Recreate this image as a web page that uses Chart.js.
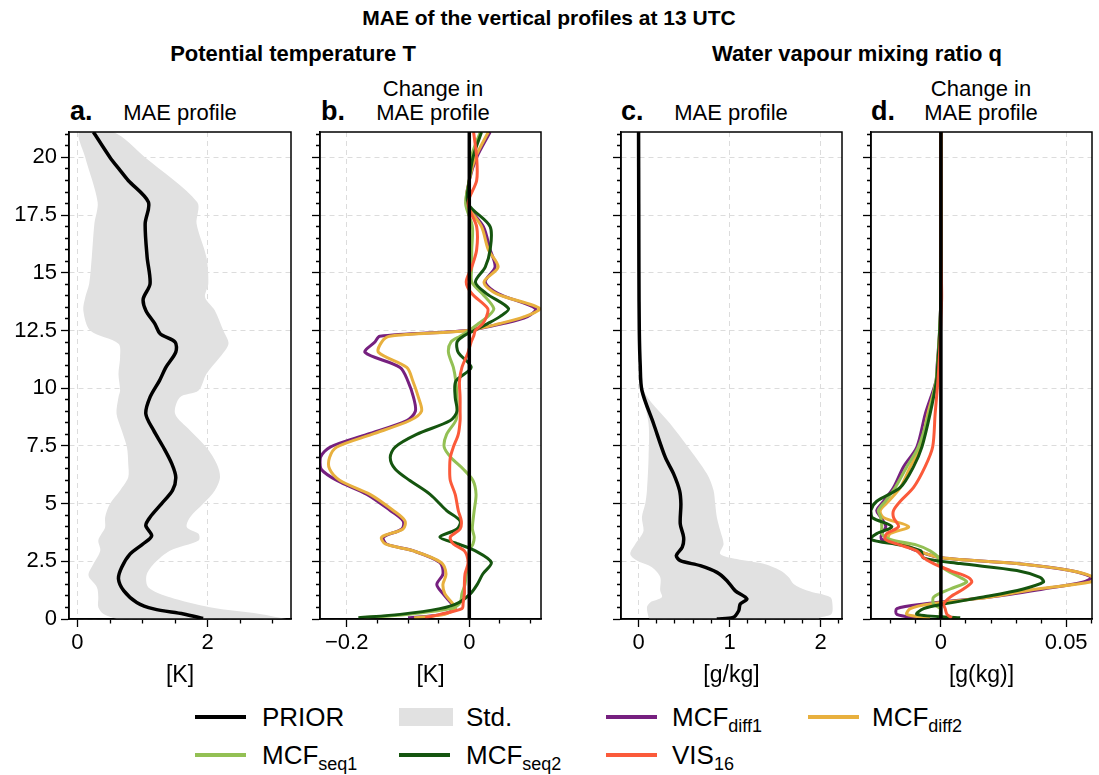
<!DOCTYPE html>
<html>
<head>
<meta charset="utf-8">
<title>MAE of the vertical profiles at 13 UTC</title>
<script src="https://cdn.jsdelivr.net/npm/chart.js@4.4.1/dist/chart.umd.min.js"></script>
<style>
  body { margin: 0; background: #fff; font-family: 'Liberation Sans', Arial, sans-serif; }
  #fig { position: relative; width: 1099px; height: 775px; overflow: hidden; background: #fff; }
  .txt { position: absolute; white-space: nowrap; line-height: 1; color: #000; }
  .ctr { width: 400px; text-align: center; }
  .title { font-size: 21px; font-weight: bold; }
  .coltitle { font-size: 22px; font-weight: bold; }
  .ptitle { font-size: 22px; }
  .letter { font-size: 27px; font-weight: bold; }
  .lg { font-size: 26px; }
  .sub { font-size: 18px; position: relative; top: 6px; }
  .lg-line { position: absolute; width: 51px; height: 4px; }
  .lg-patch { position: absolute; width: 54px; height: 18px; background: #e1e1e1; }
  canvas { position: absolute; }
</style>
</head>
<body>
<div id="fig">
  <div class="txt ctr title" style="left:349px;top:7px">MAE of the vertical profiles at 13 UTC</div>
  <div class="txt ctr coltitle" style="left:93px;top:43px">Potential temperature T</div>
  <div class="txt ctr coltitle" style="left:657px;top:43px">Water vapour mixing ratio q</div>

  <div class="txt letter" style="left:70px;top:98px">a.</div>
  <div class="txt ctr ptitle" style="left:-20px;top:102px">MAE profile</div>
  <div class="txt letter" style="left:321px;top:98px">b.</div>
  <div class="txt ctr ptitle" style="left:233px;top:78px">Change in</div>
  <div class="txt ctr ptitle" style="left:233px;top:102px">MAE profile</div>
  <div class="txt letter" style="left:621px;top:98px">c.</div>
  <div class="txt ctr ptitle" style="left:531px;top:102px">MAE profile</div>
  <div class="txt letter" style="left:871px;top:98px">d.</div>
  <div class="txt ctr ptitle" style="left:781px;top:78px">Change in</div>
  <div class="txt ctr ptitle" style="left:781px;top:102px">MAE profile</div>

  <canvas id="panelA" width="292" height="563" style="left:3px;top:128px"></canvas>
  <canvas id="panelB" width="237" height="563" style="left:308px;top:128px"></canvas>
  <canvas id="panelC" width="237" height="563" style="left:609px;top:128px"></canvas>
  <canvas id="panelD" width="237" height="563" style="left:859px;top:128px"></canvas>

  <div class="lg-line" style="left:195px;top:715px;background:#000"></div>
  <div class="txt lg" style="left:262px;top:704px">PRIOR</div>
  <div class="lg-patch" style="left:399px;top:708px"></div>
  <div class="txt lg" style="left:466px;top:704px">Std.</div>
  <div class="lg-line" style="left:606px;top:715px;background:#76207f"></div>
  <div class="txt lg" style="left:672px;top:704px">MCF<span class="sub">diff1</span></div>
  <div class="lg-line" style="left:808px;top:715px;background:#e8b03e"></div>
  <div class="txt lg" style="left:872px;top:704px">MCF<span class="sub">diff2</span></div>

  <div class="lg-line" style="left:195px;top:753px;background:#93c054"></div>
  <div class="txt lg" style="left:262px;top:742px">MCF<span class="sub">seq1</span></div>
  <div class="lg-line" style="left:399px;top:753px;background:#15550f"></div>
  <div class="txt lg" style="left:466px;top:742px">MCF<span class="sub">seq2</span></div>
  <div class="lg-line" style="left:606px;top:753px;background:#fb5a3a"></div>
  <div class="txt lg" style="left:672px;top:742px">VIS<span class="sub">16</span></div>
</div>

<script>
// height axis [km]
const yMax = 21.1;
const heightTicks = [0, 2.5, 5, 7.5, 10, 12.5, 15, 17.5, 20];

// a. potential temperature, prior MAE [K]
const heightT = [0.02, 0.22, 0.44, 0.72, 1.23, 1.74, 2.24, 2.82, 3.26, 3.61, 4.05, 4.41, 4.99, 5.57, 6.14, 6.72, 7.44, 8.17, 8.89, 9.61, 10.33, 10.91, 11.56, 12.0, 12.36, 12.79, 13.37, 13.87, 14.52, 15.68, 17.13, 18.06, 19.0, 19.44, 20.0, 21.1];
const priorT = [1.93, 1.63, 1.17, 0.91, 0.71, 0.63, 0.68, 0.81, 1.01, 1.14, 1.05, 1.115, 1.29, 1.46, 1.51, 1.45, 1.32, 1.17, 1.05, 1.115, 1.26, 1.36, 1.51, 1.50, 1.27, 1.19, 1.05, 1.01, 1.115, 1.07, 1.04, 1.09, 0.78, 0.655, 0.50, 0.245];
const stdT_h = [0.0, 0.22, 0.51, 0.94, 1.37, 1.88, 2.38, 2.96, 3.4, 3.69, 3.98, 4.41, 4.99, 5.57, 6.14, 6.72, 7.44, 8.17, 8.89, 9.61, 9.9, 10.62, 11.35, 11.93, 12.5, 13.37, 13.94, 14.52, 15.68, 17.13, 18.06, 20.0, 21.1];
const stdT_lo = [0.60, 0.40, 0.32, 0.32, 0.30, 0.17, 0.245, 0.35, 0.32, 0.37, 0.425, 0.425, 0.50, 0.655, 0.78, 0.78, 0.76, 0.68, 0.60, 0.63, 0.655, 0.63, 0.655, 0.63, 0.195, 0.09, 0.12, 0.18, 0.22, 0.26, 0.31, 0.12, 0.03];
const stdT_hi = [3.21, 2.80, 2.035, 1.42, 1.09, 1.06, 1.17, 1.42, 1.86, 1.86, 1.68, 1.73, 1.93, 2.11, 2.19, 2.14, 1.98, 1.73, 1.50, 1.575, 1.86, 1.98, 2.19, 2.32, 2.24, 2.11, 1.96, 2.01, 1.98, 1.83, 1.84, 1.04, 0.55];

// b. change in temperature MAE [K]
const heightB = [0.05, 0.2, 0.45, 0.7, 1.1, 1.5, 1.95, 2.45, 2.95, 3.25, 3.55, 3.9, 4.25, 4.7, 5.4, 6.0, 6.5, 7.0, 7.45, 8.0, 8.6, 9.0, 9.6, 10.3, 10.9, 11.55, 12.0, 12.25, 12.5, 12.8, 13.1, 13.45, 14.1, 14.6, 15.25, 16.0, 17.0, 18.0, 19.0, 20.0, 21.1];
const diff1T = [-0.10, -0.045, -0.023, -0.03, -0.043, -0.053, -0.043, -0.048, -0.091, -0.135, -0.140, -0.110, -0.108, -0.129, -0.167, -0.216, -0.242, -0.243, -0.227, -0.167, -0.102, -0.088, -0.091, -0.100, -0.113, -0.170, -0.154, -0.146, -0.004, 0.055, 0.095, 0.108, 0.047, 0.026, 0.042, 0.034, 0.023, -0.004, 0.0, 0.012, 0.034];
const diff2T = [-0.09, -0.04, -0.023, -0.028, -0.040, -0.043, -0.038, -0.046, -0.091, -0.137, -0.143, -0.108, -0.105, -0.124, -0.162, -0.211, -0.228, -0.228, -0.216, -0.159, -0.097, -0.078, -0.083, -0.092, -0.102, -0.148, -0.143, -0.13, -0.002, 0.05, 0.09, 0.115, 0.044, 0.024, 0.047, 0.031, 0.02, -0.004, 0.0, 0.01, 0.031];
const seq1T = [-0.173, -0.103, -0.03, -0.015, -0.012, -0.007, -0.005, 0.0, 0.0, 0.006, 0.008, 0.005, 0.006, 0.008, 0.011, 0.006, -0.01, -0.03, -0.041, -0.037, -0.022, -0.02, -0.02, -0.022, -0.026, -0.034, -0.03, -0.015, 0.0, 0.015, 0.03, 0.04, 0.021, 0.004, 0.004, 0.004, 0.005, -0.006, 0.0, 0.003, 0.018];
const seq2T = [-0.181, -0.113, -0.048, -0.018, 0.002, 0.013, 0.022, 0.036, 0.01, -0.018, -0.048, -0.02, -0.015, -0.037, -0.064, -0.097, -0.121, -0.129, -0.121, -0.086, -0.031, -0.02, -0.023, -0.022, 0.003, -0.018, -0.02, -0.01, 0.008, 0.03, 0.05, 0.064, 0.028, 0.01, 0.026, 0.034, 0.034, -0.002, 0.0, 0.006, 0.02];
const vis16T = [-0.072, -0.048, -0.012, -0.01, -0.008, -0.008, -0.007, -0.002, -0.008, -0.026, -0.031, -0.015, -0.013, -0.018, -0.023, -0.031, -0.032, -0.031, -0.026, -0.018, -0.015, -0.015, -0.015, -0.016, -0.012, -0.002, 0.003, 0.007, 0.01, 0.022, 0.028, 0.03, 0.004, -0.005, 0.004, 0.012, 0.012, -0.002, 0.012, 0.012, 0.007];

// c. water vapour, prior MAE [g/kg]
const heightQ = [0.0, 0.07, 0.36, 0.65, 0.87, 1.23, 1.66, 2.02, 2.31, 2.53, 2.75, 3.11, 3.54, 4.12, 4.99, 5.57, 6.29, 7.01, 8.46, 9.9, 11.0, 12.5, 15.0, 18.0, 21.1];
const priorQ = [0.86, 1.04, 1.10, 1.117, 1.19, 1.06, 0.971, 0.861, 0.678, 0.458, 0.415, 0.48, 0.495, 0.458, 0.465, 0.45, 0.385, 0.293, 0.165, 0.037, 0.018, 0.008, 0.004, 0.002, 0.0];
const stdQ_loH = [0.0, 0.07, 0.51, 0.72, 0.94, 1.23, 1.81, 2.24, 2.53, 2.82, 3.25, 3.54, 3.83, 4.41, 4.99, 5.57, 7.01, 8.46, 9.9, 11.5, 13.0, 21.1];
const stdQ_lo = [0.12, 0.11, 0.092, 0.128, 0.256, 0.238, 0.238, 0.147, -0.018, -0.091, -0.036, 0.018, 0.055, 0.037, 0.073, 0.092, 0.11, 0.11, 0.037, 0.01, 0.003, 0.0];
const stdQ_hiH = [0.0, 0.07, 0.22, 0.65, 0.94, 1.23, 1.52, 1.81, 2.10, 2.39, 2.60, 2.82, 3.25, 3.83, 4.41, 4.99, 5.57, 6.29, 7.52, 8.46, 9.9, 11.5, 13.0, 21.1];
const stdQ_hi = [1.98, 2.0, 2.12, 2.13, 2.107, 1.85, 1.703, 1.65, 1.557, 1.374, 1.08, 0.897, 0.934, 0.897, 0.86, 0.842, 0.824, 0.751, 0.531, 0.348, 0.055, 0.025, 0.008, 0.0];

// d. change in water vapour MAE [g/kg]
const heightD = [0.05, 0.2, 0.45, 0.65, 0.95, 1.3, 1.6, 1.8, 2.1, 2.4, 2.65, 2.95, 3.2, 3.45, 3.7, 4.0, 4.4, 4.7, 5.1, 5.7, 6.6, 7.45, 8.9, 10.3, 11.0, 12.0, 13.0, 14.0, 16.0, 21.1];
const diff1Q = [-0.0096, -0.0176, -0.0176, -0.0069, 0.0197, 0.0409, 0.0569, 0.0602, 0.0516, 0.0303, 0.0004, -0.0096, -0.015, -0.0236, -0.0236, -0.022, -0.024, -0.0256, -0.0229, -0.0189, -0.0149, -0.0096, -0.0062, -0.002, -0.0015, -0.0008, -0.0003, 0, 0.0002, 0];
const diff2Q = [-0.0043, -0.0136, -0.0122, -0.0043, 0.0197, 0.0383, 0.0596, 0.061, 0.0516, 0.0303, 0.0004, -0.009, -0.014, -0.021, -0.0202, -0.0129, -0.0229, -0.0242, -0.0209, -0.0162, -0.0122, -0.0082, -0.0052, -0.0018, -0.0013, -0.0007, -0.0002, 0, 0.0001, 0];
const seq1Q = [0.001, -0.0003, -0.0003, -0.0029, -0.0029, 0.0037, 0.0103, 0.0077, 0.0024, -0.001, -0.001, -0.0043, -0.0096, -0.0202, -0.0236, -0.0236, -0.024, -0.025, -0.0222, -0.0182, -0.0136, -0.009, -0.0048, -0.002, -0.0014, -0.0008, -0.0003, 0, 0, 0];
const seq2Q = [0.0077, -0.0096, -0.0069, 0.0011, 0.017, 0.0329, 0.0409, 0.0396, 0.0303, 0.0077, -0.007, -0.008, -0.016, -0.0282, -0.0256, -0.0196, -0.0275, -0.028, -0.0256, -0.0162, -0.0109, -0.0076, -0.0043, -0.0018, -0.0013, -0.0007, -0.0003, 0, 0, 0];
const vis16Q = [0.0044, 0.0024, 0.0017, 0.0011, 0.0037, 0.009, 0.0123, 0.011, 0.0037, -0.0029, -0.0069, -0.0096, -0.0162, -0.0222, -0.0216, -0.0169, -0.0189, -0.0189, -0.0162, -0.0109, -0.0063, -0.0033, -0.0023, -0.0012, -0.0008, -0.0003, 0, 0.0003, 0, 0];

// x axis major ticks per panel
const xTicksA = [0, 2];
const xTicksB = [-0.2, 0];
const xTicksC = [0, 1, 2];
const xTicksD = [0, 0.05];

const colors = {
  prior: '#000000', std: '#e1e1e1',
  diff1: '#76207f', diff2: '#e8b03e',
  seq1: '#93c054', seq2: '#15550f', vis16: '#fb5a3a'
};

Chart.defaults.font.family = "'Liberation Sans', Arial, sans-serif";
Chart.defaults.color = '#000';

function profile(values, heights) {
  return values.map((v, i) => ({ x: v, y: heights[i] }));
}

// closed outline: lower edge going up, upper edge coming back down
function band(lo, loH, hi, hiH) {
  return profile(lo, loH).concat(profile(hi, hiH).reverse());
}

function line(label, data, color, width) {
  return { label, data, borderColor: color, borderWidth: width || 3, pointRadius: 0, tension: 0.3, fill: false };
}

function stdBand(data) {
  return { label: 'Std.', data, borderWidth: 0, backgroundColor: colors.std, fill: 'shape', pointRadius: 0, tension: 0.3 };
}

function zeroLine() {
  return line('zero', [{ x: 0, y: 0 }, { x: 0, y: yMax }], '#000', 3.5);
}

function tickList(min, max, step) {
  const out = [];
  for (let k = Math.ceil(min / step - 1e-9); k * step <= max + 1e-9; k++) out.push(+(k * step).toFixed(6));
  return out;
}

function fmt(v) {
  return String(+v.toFixed(6)).replace('-', '\u2212');
}

function scaleOpts(min, max, majors, step, horizontal, showLabels, title, axisSize) {
  const major = v => majors.some(m => Math.abs(m - v) < 1e-9);
  return {
    type: 'linear', min, max,
    afterBuildTicks: s => { s.ticks = tickList(min, max, step).map(v => ({ value: v })); },
    afterFit: s => {
      // fixed axis size, and no extra room for the end labels
      if (horizontal) { s.height = axisSize; s.paddingLeft = 0; s.paddingRight = 0; }
      else { s.width = axisSize; s.paddingTop = 0; s.paddingBottom = 0; }
    },
    ticks: {
      autoSkip: false, maxRotation: 0, padding: horizontal ? 3 : 4,
      color: '#000', font: { size: 22 },
      callback: v => (showLabels && major(v)) ? fmt(v) : ''
    },
    grid: {
      color: c => (c.tick && major(c.tick.value)) ? '#dcdcdc' : 'rgba(0,0,0,0)',
      lineWidth: 1, tickLength: 8, tickColor: '#000', tickWidth: 1.3,
      tickBorderDash: c => (c.tick && major(c.tick.value)) ? [] : (horizontal ? [4, 20] : [0, 4, 4, 20])
    },
    border: { display: true, color: '#000', width: 1.5, dash: [5, 4] },
    title: title
      ? { display: true, text: title, color: '#000', font: { size: 23 }, padding: { top: 0, bottom: 0 } }
      : { display: false }
  };
}

// black box round the plot area
const frame = {
  id: 'frame',
  afterDraw(chart) {
    const { ctx, chartArea: a } = chart;
    ctx.save();
    ctx.strokeStyle = '#000';
    ctx.lineWidth = 1.5;
    ctx.strokeRect(a.left, a.top, a.right - a.left, a.bottom - a.top);
    ctx.restore();
  }
};

function makePanel(id, datasets, x, yLabels, yWidth) {
  return new Chart(document.getElementById(id), {
    type: 'line',
    data: { datasets },
    options: {
      responsive: false,
      animation: false,
      layout: { padding: { top: 4, right: 4, left: 0, bottom: 2 } },
      plugins: { legend: { display: false }, tooltip: { enabled: false } },
      scales: {
        x: scaleOpts(x.min, x.max, x.ticks, x.step, true, true, x.title, 70),
        y: scaleOpts(0, yMax, heightTicks, 0.5, false, yLabels, null, yWidth)
      }
    },
    plugins: [frame]
  });
}

// first dataset is drawn on top
makePanel('panelA', [
  line('PRIOR', profile(priorT, heightT), colors.prior, 3.5),
  stdBand(band(stdT_lo, stdT_h, stdT_hi, stdT_h))
], { min: -0.13, max: 3.28, ticks: xTicksA, step: 0.5, title: '[K]' }, true, 66);

makePanel('panelB', [
  zeroLine(),
  line('VIS16', profile(vis16T, heightB), colors.vis16),
  line('MCFseq2', profile(seq2T, heightB), colors.seq2),
  line('MCFseq1', profile(seq1T, heightB), colors.seq1),
  line('MCFdiff2', profile(diff2T, heightB), colors.diff2),
  line('MCFdiff1', profile(diff1T, heightB), colors.diff1)
], { min: -0.2436, max: 0.117, ticks: xTicksB, step: 0.05, title: '[K]' }, false, 12);

makePanel('panelC', [
  line('PRIOR', profile(priorQ, heightQ), colors.prior, 3.5),
  stdBand(band(stdQ_lo, stdQ_loH, stdQ_hi, stdQ_hiH))
], { min: -0.193, max: 2.235, ticks: xTicksC, step: 0.2, title: '[g/kg]' }, false, 12);

makePanel('panelD', [
  zeroLine(),
  line('VIS16', profile(vis16Q, heightD), colors.vis16),
  line('MCFseq2', profile(seq2Q, heightD), colors.seq2),
  line('MCFseq1', profile(seq1Q, heightD), colors.seq1),
  line('MCFdiff2', profile(diff2Q, heightD), colors.diff2),
  line('MCFdiff1', profile(diff1Q, heightD), colors.diff1)
], { min: -0.0279, max: 0.0603, ticks: xTicksD, step: 0.01, title: '[g(kg)]' }, false, 12);
</script>
</body>
</html>
